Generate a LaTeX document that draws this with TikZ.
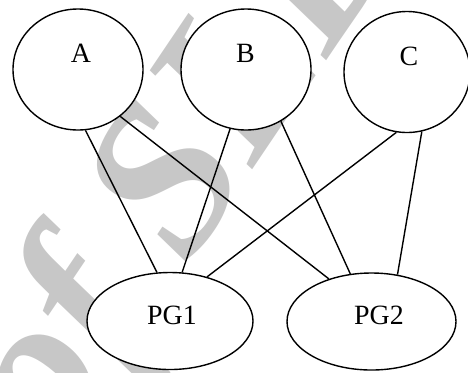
\documentclass[tikz,border=0pt]{standalone}
\usepackage{fontspec}
\setmainfont{Liberation Serif}
\usetikzlibrary{shapes.geometric}
\begin{document}
\begin{tikzpicture}[x=1bp,y=-1bp,
  ell/.style={draw, ellipse, fill=white, line width=1.4bp, inner sep=0pt},
  lbl/.style={anchor=base, inner sep=0pt, font=\fontsize{28}{32}\selectfont},
  conn/.style={line width=1.4bp}]
\useasboundingbox (0,0) rectangle (468,372);
\node[rotate=56, text=black!22, inner sep=0pt, font=\fontsize{215}{215}\selectfont\bfseries\itshape] (wm) at (192,166) {of SLD};
\node[ell, minimum width=130bp, minimum height=121bp] (A) at (78,69.5) {};
\node[ell, minimum width=130bp, minimum height=121bp] (B) at (246,69.5) {};
\node[ell, minimum width=126bp, minimum height=121bp] (C) at (407,72) {};
\node[ell, minimum width=166bp, minimum height=97bp] (PG1) at (170,321) {};
\node[ell, minimum width=169bp, minimum height=97bp] (PG2) at (371.5,321.5) {};
\node[lbl] (tA) at (81,62) {A};
\node[lbl] (tB) at (245.5,62) {B};
\node[lbl] (tC) at (409,65) {C};
\node[lbl] (tPG1) at (172,324) {PG1};
\node[lbl] (tPG2) at (379,324) {PG2};
\draw[conn] (A.-83.5) -- (PG1.105);
\draw[conn] (A.-48.4) -- (PG2.135.7);
\draw[conn] (B.-105.6) -- (PG1.76.8);
\draw[conn] (B.-56.8) -- (PG2.114.6);
\draw[conn] (C.-100.7) -- (PG1.50.5);
\draw[conn] (C.-76.4) -- (PG2.61);
\end{tikzpicture}
\end{document}
